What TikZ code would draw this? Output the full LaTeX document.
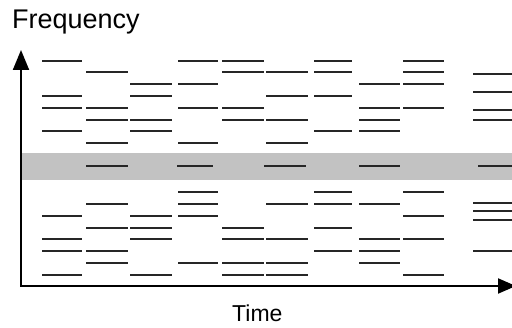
\documentclass[tikz,border=0pt]{standalone}
\usepackage{fontspec}
\setmainfont{Liberation Sans}
\usetikzlibrary{arrows.meta}
\definecolor{bandgray}{RGB}{194,194,194}
\definecolor{barink}{RGB}{38,38,38}
\tikzset{
  bar/.style={draw=barink, line width=1.8pt},
  axisline/.style={draw=black, line width=2pt, line join=miter},
  axistext/.style={inner sep=0pt, anchor=base west, text=black}
}
\begin{document}
\begin{tikzpicture}[x=1pt,y=-1pt]
\useasboundingbox (0,0) rectangle (512,328);
\clip (0,0) rectangle (512,328);
\fill[white] (0,0) rectangle (512,328);

% shaded frequency band
\fill[bandgray] (21,153) rectangle (514,180);

% upper block of segments: x-start / x-end / rows
\foreach \xa/\xb/\ys in {
  42/82/{60.7,96,108,131.3},
  86/128/{72.3,108,119.7,143},
  130/172/{84.3,96,119.7,131.3},
  178/218/{60.7,84.3,108,143},
  222/264/{60.7,72.3,108,119.7},
  266/308/{72.3,96,119.7,143},
  314/352/{60.7,72.3,96,131.3},
  359/400/{84.3,108,119.7,131.3},
  403/444/{60.7,72.3,84.3,108},
  473/514/{74.3,91.7,110.3,119.7}}{
  \foreach \y in \ys { \draw[bar] (\xa,\y) -- (\xb,\y); }
}

% segments inside the band
\foreach \xa/\xb in {86/128, 177/213, 264/306, 359/400, 478/514}{
  \draw[bar] (\xa,166) -- (\xb,166);
}

% lower block of segments
\foreach \xa/\xb/\ys in {
  42/82/{215.7,239.3,251,274.7},
  86/128/{204,227.7,251,262.7},
  130/172/{215.7,227.7,239.3,274.7},
  178/218/{192.3,204,215.7,262.7},
  222/264/{227.7,239.3,262.7,274.7},
  266/308/{204,239.3,262.7,274.7},
  314/352/{192.3,204,227.7,251},
  359/400/{204,239.3,251,262.7},
  403/444/{192.3,215.7,239.3,274.7},
  473/514/{203.3,211,220.3,250.7}}{
  \foreach \y in \ys { \draw[bar] (\xa,\y) -- (\xb,\y); }
}

% axes
\coordinate (ytip) at (21,50);
\coordinate (origin) at (21,286);
\coordinate (xtip) at (516,286);
\draw[axisline, {Triangle[length=20pt,width=16pt]}-{Triangle[length=18pt,width=15pt]}]
  (ytip) -- (origin) -- (xtip);

% axis captions
\node[axistext, font=\fontsize{27}{30}\selectfont] (ylabel) at (12,28.3) {Frequency};
\node[axistext, font=\fontsize{23}{26}\selectfont] (xlabel) at (232,322) {Time};
\end{tikzpicture}
\end{document}
